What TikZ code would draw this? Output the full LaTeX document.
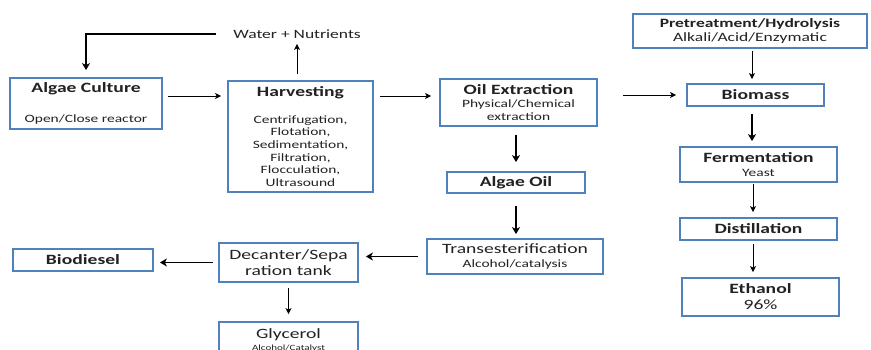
\documentclass[tikz,border=0pt]{standalone}
\usepackage{fontspec}
\setmainfont{Carlito}[FakeStretch=1.38]
\usetikzlibrary{arrows.meta}

\definecolor{boxblue}{HTML}{4F81BD}
\definecolor{inkgray}{HTML}{222222}

\newcommand\bigtxt{\fontsize{14.2}{16}\selectfont}
\newcommand\midtxt{\fontsize{11.2}{12.6}\selectfont}
\newcommand\headtxt{\fontsize{12.7}{14}\selectfont}

\begin{document}
\begin{tikzpicture}[x=1pt, y=-1pt,
    stage/.style={draw=boxblue, line width=1.8pt, fill=white, align=center,
      text=inkgray, inner sep=0pt, font=\bigtxt},
    substage/.style={stage, font=\midtxt},
    flow/.style={-{Stealth[length=6pt,width=6pt,inset=1.5pt]}, line width=1pt},
    bigflow/.style={-{Stealth[length=7pt,width=8pt,inset=2pt]}, line width=1.8pt}]

  \useasboundingbox (0,0) rectangle (871,349);

  % --- algae branch ---
  \node[substage, minimum width=152pt, minimum height=51pt] (culture) at (86,103.5)
    {{\bigtxt\bfseries Algae Culture}\\[17pt]Open/Close reactor};
  \node[substage, minimum width=145pt, minimum height=111pt] (harvest) at (300.5,136.5)
    {{\bigtxt\bfseries Harvesting}\\[14pt]Centrifugation,\\ Flotation,\\
     Sedimentation,\\ Filtration,\\ Flocculation,\\ Ultrasound};
  \node[text=inkgray, font=\headtxt] (waternut) at (297,34) {Water + Nutrients};

  % --- oil branch ---
  \node[substage, minimum width=157pt, minimum height=47pt] (oilext) at (518.5,102.5)
    {{\bigtxt\bfseries Oil Extraction}\\[1pt]Physical/Chemical\\ extraction};
  \node[stage, minimum width=138pt, minimum height=21pt] (algaeoil) at (516,182.5)
    {\textbf{Algae Oil}};
  \node[substage, minimum width=176pt, minimum height=35pt] (transest) at (515,256.5)
    {{\bigtxt Transesterification}\\[1pt]Alcohol/catalysis};
  \node[stage, minimum width=139pt, minimum height=39pt] (decanter) at (288.5,262.5)
    {Decanter/Sepa\\ ration tank};
  \node[stage, minimum width=140pt, minimum height=22pt] (biodiesel) at (83,260)
    {\textbf{Biodiesel}};
  \node[stage, minimum width=139pt, minimum height=36pt] (glycerol) at (288.5,340)
    {Glycerol\\[-4pt]\fontsize{8}{9}\selectfont Alcohol/Catalyst};

  % --- ethanol branch ---
  \node[stage, minimum width=234pt, minimum height=34pt, font=\headtxt] (pretreat) at (750,31)
    {\textbf{Pretreatment/Hydrolysis}\\ Alkali/Acid/Enzymatic};
  \node[stage, minimum width=137pt, minimum height=22pt] (biomass) at (755.5,95)
    {\textbf{Biomass}};
  \node[substage, minimum width=157pt, minimum height=35pt] (ferment) at (758.5,164.5)
    {{\bigtxt\bfseries Fermentation}\\[2pt]Yeast};
  \node[stage, minimum width=157pt, minimum height=22pt] (distill) at (758.5,229)
    {\textbf{Distillation}};
  \node[stage, minimum width=157pt, minimum height=38pt] (ethanol) at (760.5,297)
    {\textbf{Ethanol}\\ 96\%};

  % --- frecce ---
  \coordinate (topline) at ([yshift=7.5pt]culture.east);
  \draw[flow, shorten <=5pt, shorten >=6pt] (topline) -- (topline -| harvest.west);
  \draw[flow, shorten <=6pt, shorten >=8pt] (harvest.east |- topline) -- (oilext.west |- topline);
  \draw[flow, shorten <=6pt, shorten >=2pt] (harvest.north -| waternut) -- (waternut.south);
  \draw[bigflow, shorten <=14pt, shorten >=7pt] (waternut.west) -| (culture.north);

  \draw[flow, shorten <=25pt, shorten >=10pt] (oilext.east |- biomass.west) -- (biomass.west);
  \draw[bigflow, shorten <=8pt, shorten >=9pt] (oilext.south -| algaeoil) -- (algaeoil.north);
  \draw[bigflow, shorten <=12pt, shorten >=4pt] (algaeoil.south) -- (transest.north -| algaeoil);
  \draw[bigflow, shorten <=8pt, shorten >=7pt] (transest.west) -- (transest.west -| decanter.east);
  \draw[bigflow, shorten <=5pt, shorten >=6pt] (decanter.west) -- (decanter.west -| biodiesel.east);
  \draw[flow, shorten <=5pt, shorten >=7pt] (decanter.south) -- (glycerol.north);

  \draw[flow, shorten <=2pt, shorten >=4pt] (pretreat.south -| 752,0) -- (biomass.north -| 752,0);
  \draw[bigflow, shorten <=7pt, shorten >=5pt] (biomass.south -| 752,0) -- (ferment.north -| 752,0);
  \draw[flow, shorten <=1pt, shorten >=5pt] (ferment.south -| 753,0) -- (distill.north -| 753,0);
  \draw[flow, shorten <=3pt, shorten >=5pt] (distill.south -| 753,0) -- (ethanol.north -| 753,0);

\end{tikzpicture}
\end{document}
